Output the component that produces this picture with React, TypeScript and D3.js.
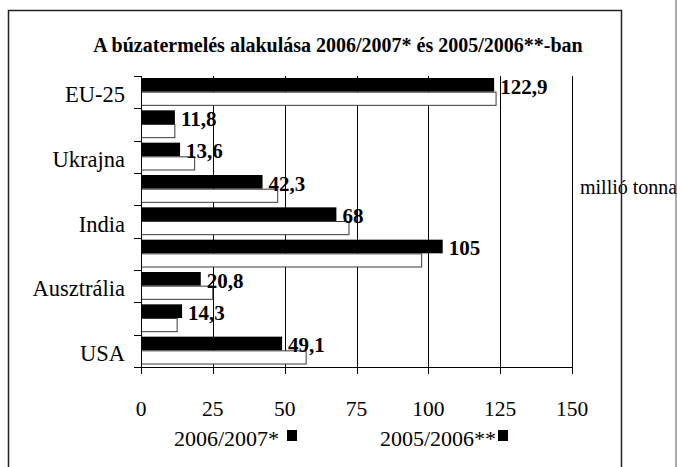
import React from "react";
import * as d3 from "d3";

const categories = ["EU-25", "", "Ukrajna", "", "India", "", "Ausztrália", "", "USA"];
const series2007 = [122.9, 11.8, 13.6, 42.3, 68, 105, 20.8, 14.3, 49.1];
const series2006 = [123.4, 11.6, 18.5, 47.4, 72.2, 97.5, 24.8, 12.4, 57.3];
const valueLabels = ["122,9", "11,8", "13,6", "42,3", "68", "105", "20,8", "14,3", "49,1"];
const xTicks = [0, 25, 50, 75, 100, 125, 150];
const seriesNames = ["2006/2007*", "2005/2006**"];
const title = "A búzatermelés alakulása 2006/2007* és 2005/2006**-ban";
const unitLabel = "millió tonna";

const W = 677;
const H = 467;
const FONT = "'Liberation Serif', 'Times New Roman', serif";

export default function App() {
  const x = d3.scaleLinear().domain([0, 150]).range([141, 572]);
  const idx = categories.map((_, i) => String(i));
  const y = d3.scaleBand<string>().domain(idx).range([76, 367]).padding(0);
  const bw = y.bandwidth();
  const inner = d3.scaleBand<string>().domain(["a", "b"]).range([2, bw - 3]).padding(0);
  const bh = inner.bandwidth();
  const top = 76;
  const bottom = 367;
  const boundaries = d3.range(categories.length + 1).map((i) => top + i * bw);

  return (
    <svg width={W} height={H} style={{ position: "absolute", left: 0, top: 0, background: "#fff" }} fontFamily={FONT}>
      <rect x={0} y={0} width={W} height={H} fill="#fff" />
      {/* title */}
      <text x={338} y={52} textAnchor="middle" fontWeight="bold" fontSize={20}>
        {title}
      </text>
      {/* unit label */}
      <text x={580} y={194} fontSize={20}>
        {unitLabel}
      </text>
      {/* gridlines */}
      {xTicks.slice(1).map((t) => (
        <line key={"g" + t} x1={Math.round(x(t)) + 0.5} x2={Math.round(x(t)) + 0.5} y1={top} y2={bottom} stroke="#000" strokeWidth={1} />
      ))}
      {/* bars */}
      {idx.map((k, i) => {
        const y0 = y(k)!;
        const wb = x(series2007[i]) - x(0);
        const ww = x(series2006[i]) - x(0);
        return (
          <g key={"b" + k}>
            <rect x={x(0)} y={y0 + inner("a")!} width={wb} height={bh} fill="#000" />
            <rect x={x(0) + 0.5} y={y0 + inner("b")! + 0.5} width={ww} height={bh - 0.5} fill="#fff" stroke="#3a3a3a" strokeWidth={1} />
          </g>
        );
      })}
      {/* value labels */}
      {idx.map((k, i) => (
        <text key={"v" + k} x={x(series2007[i]) + 6} y={y(k)! + inner("a")! + bh + 2} fontWeight="bold" fontSize={21}>
          {valueLabels[i]}
        </text>
      ))}
      {/* y axis */}
      <line x1={141.5} x2={141.5} y1={top} y2={bottom} stroke="#000" />
      {boundaries.map((b, i) => (
        <line key={"yt" + i} x1={134} x2={141.5} y1={Math.round(b) + 0.5} y2={Math.round(b) + 0.5} stroke="#000" />
      ))}
      {categories.map((c, i) =>
        c ? (
          <text key={"c" + i} x={125} y={y(String(i))! + bw / 2 + 10} textAnchor="end" fontSize={22.5}>
            {c}
          </text>
        ) : null
      )}
      {/* x axis */}
      <line x1={134} x2={572.5} y1={bottom + 0.5} y2={bottom + 0.5} stroke="#000" />
      {xTicks.map((t) => (
        <g key={"xt" + t}>
          <line x1={Math.round(x(t)) + 0.5} x2={Math.round(x(t)) + 0.5} y1={bottom} y2={bottom + 7} stroke="#000" />
          <text x={x(t)} y={416} textAnchor="middle" fontSize={21.5}>
            {t}
          </text>
        </g>
      ))}
      {/* legend */}
      <text x={279} y={446} textAnchor="end" fontSize={22}>
        {seriesNames[0]}
      </text>
      <rect x={287} y={430} width={10} height={11} fill="#000" />
      <text x={496} y={446} textAnchor="end" fontSize={22}>
        {seriesNames[1]}
      </text>
      <rect x={498} y={430} width={10} height={11} fill="#000" />
      {/* frames */}
      <rect x={8.5} y={10.5} width={613} height={480} fill="none" stroke="#222" strokeWidth={1.5} />
      <line x1={676} x2={676} y1={0} y2={H} stroke="#555" strokeWidth={1} />
    </svg>
  );
}
